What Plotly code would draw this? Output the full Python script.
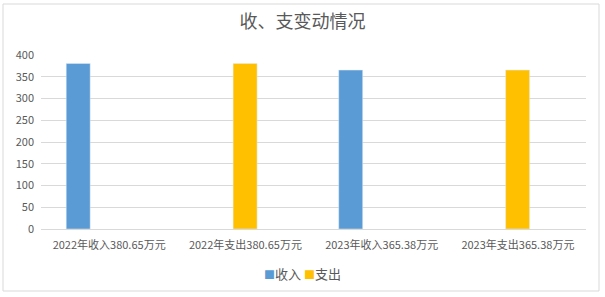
import plotly.graph_objects as go

categories = ["2022年收入380.65万元", "2022年支出380.65万元", "2023年收入365.38万元", "2023年支出365.38万元"]
income = [380.65, None, 365.38, None]
expense = [None, 380.65, None, 365.38]
series_names = ["收入", "支出"]
series_colors = ["#5b9bd5", "#ffc000"]
y_ticks = [0, 50, 100, 150, 200, 250, 300, 350, 400]

W, H = 605, 297
L, R, T, B = 41, 19, 55, 68
pw, ph = W - L - R, H - T - B

font = "Noto Sans CJK SC, Microsoft YaHei, sans-serif"
grey = "#595959"

fig = go.Figure()
fig.add_trace(go.Bar(x=categories, y=income, name=series_names[0], marker_color=series_colors[0],
                     width=0.176, offset=-0.315))
fig.add_trace(go.Bar(x=categories, y=expense, name=series_names[1], marker_color=series_colors[1],
                     width=0.176, offset=-0.09))

def px_x(x):
    return (x - L) / pw

def px_y(y):
    return (H - B - y) / ph

legend_text = "".join(
    f'<span style="font-size:11px;color:{c}">■</span>{n}' + ("&nbsp;" if i == 0 else "")
    for i, (n, c) in enumerate(zip(series_names, series_colors))
)

fig.update_layout(
    width=W, height=H,
    margin=dict(l=L, r=R, t=T, b=B),
    paper_bgcolor="white", plot_bgcolor="white",
    title=dict(text="收、支变动情况", x=0.5, xanchor="center", y=1 - 22 / H, yanchor="middle",
               font=dict(family=font, size=18, color=grey)),
    font=dict(family=font, size=11, color=grey),
    showlegend=False,
    xaxis=dict(showgrid=False, showline=True, linecolor="#d9d9d9", linewidth=1, ticks="",
               tickfont=dict(size=11, color=grey), ticklabelstandoff=6),
    yaxis=dict(range=[0, 400], tickvals=y_ticks, showgrid=True, gridcolor="#d9d9d9", gridwidth=1,
               zeroline=False, showline=False, ticks="", tickfont=dict(size=11, color=grey),
               ticklabelstandoff=6),
    annotations=[dict(text=legend_text, xref="paper", yref="paper", x=px_x(302), y=px_y(273),
                      xanchor="center", yanchor="middle", showarrow=False,
                      font=dict(family=font, size=13, color=grey))],
    shapes=[dict(type="rect", xref="paper", yref="paper",
                 x0=px_x(3), x1=px_x(599), y0=px_y(291), y1=px_y(4),
                 line=dict(color="#d9d9d9", width=1), fillcolor="rgba(0,0,0,0)", layer="below")],
)

fig.write_html("out.html")
